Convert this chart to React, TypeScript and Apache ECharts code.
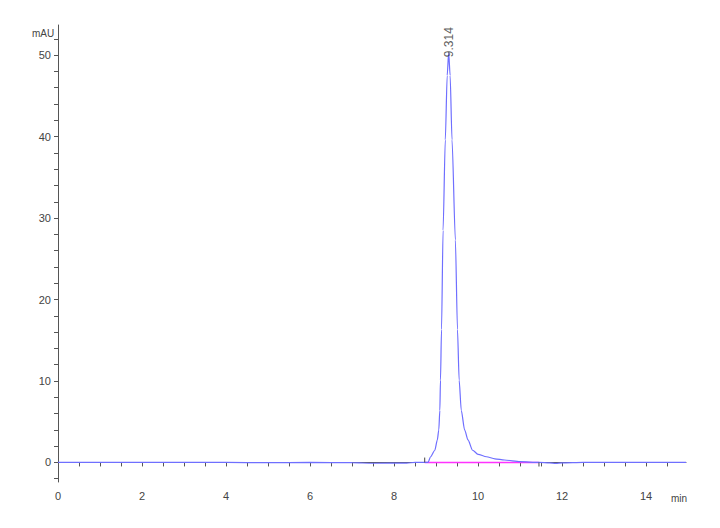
import React, { useEffect, useRef } from "react";
import * as echarts from "echarts";

// Chromatogram trace (time in min, absorbance in mAU)
const timeValues = [
  0, 1, 2, 3, 4, 5, 6, 7, 7.5, 8.3, 8.5, 8.7, 8.81, 8.87, 8.97, 9.03, 9.065, 9.09,
  9.105, 9.13, 9.167, 9.22, 9.265, 9.3, 9.335, 9.38, 9.46, 9.51, 9.55, 9.6, 9.68,
  9.76, 9.87, 10.0, 10.2, 10.4, 10.63, 11.0, 11.45, 11.7, 11.85, 12.0, 12.5, 13,
  14, 14.95,
];
const signalValues = [
  0, 0, 0.02, 0.02, 0, -0.02, 0, -0.03, -0.1, -0.08, 0, 0, 0.02, 0.7, 1.5, 2.76, 4.0,
  6.4, 10.1, 16.3, 28.5, 39.6, 47.5, 50.3, 47.5, 39.6, 27.3, 16.3, 10.1, 6.4, 4.0,
  2.76, 1.5, 1.0, 0.7, 0.45, 0.3, 0.1, 0, -0.05, -0.12, -0.05, 0.02, 0, 0, 0,
];

// Integration baseline
const baselineTimes = [8.73, 11.45];
const baselineValues = [0, 0];

// Peak
const peakTime = 9.3;
const peakHeight = 50.3;
const peakLabel = "9.314";

// Integration markers (start tick goes up, end tick goes down)
const startMarker = [[8.73, 0], [8.73, 0.6]];
const endMarker = [[11.45, 0], [11.45, -0.5]];

// Axes
const xMin = 0;
const xMax = 14.95;
const yMin = -2.4;
const yMax = 53.7;
const xMajor = [0, 2, 4, 6, 8, 10, 12, 14];
const xTicks = [
  0, 0.5, 1, 1.5, 2, 2.5, 3, 3.5, 4, 4.5, 5, 5.5, 6, 6.5, 7, 7.5, 8, 8.5, 9, 9.5, 10,
  10.5, 11, 11.5, 12, 12.5, 13, 13.5, 14, 14.5,
];
const yMajor = [0, 10, 20, 30, 40, 50];
const yTicks = [
  -2, 0, 2, 4, 6, 8, 10, 12, 14, 16, 18, 20, 22, 24, 26, 28, 30, 32, 34, 36, 38, 40,
  42, 44, 46, 48, 50, 52,
];

const FONT = "'Liberation Sans', Arial, sans-serif";
const AXIS_COLOR = "#555";
const LABEL_COLOR = "#444";

export default function App() {
  const ref = useRef<HTMLDivElement>(null);
  useEffect(() => {
    if (!ref.current) return;
    const chart = echarts.init(ref.current, null, { renderer: "svg" });
    const trace = timeValues.map((t, i) => [t, signalValues[i]]);
    const baseline = baselineTimes.map((t, i) => [t, baselineValues[i]]);
    chart.setOption({
      animation: false,
      backgroundColor: "#fff",
      grid: { left: 58, right: 34, top: 25, bottom: 46, containLabel: false },
      xAxis: {
        type: "value",
        min: xMin,
        max: xMax,
        interval: 2,
        axisLine: { show: true, lineStyle: { color: AXIS_COLOR, width: 1 } },
        axisTick: {
          show: true,
          customValues: xTicks,
          length: 4,
          inside: false,
          lineStyle: { color: AXIS_COLOR },
        },
        axisLabel: {
          customValues: xMajor,
          color: LABEL_COLOR,
          fontFamily: FONT,
          fontSize: 11,
          margin: 8,
        },
        splitLine: { show: false },
      },
      yAxis: {
        type: "value",
        min: yMin,
        max: yMax,
        interval: 10,
        axisLine: { show: true, lineStyle: { color: AXIS_COLOR, width: 1 } },
        axisTick: {
          show: true,
          customValues: yTicks,
          length: 4,
          lineStyle: { color: AXIS_COLOR },
        },
        axisLabel: {
          customValues: yMajor,
          color: LABEL_COLOR,
          fontFamily: FONT,
          fontSize: 11,
          margin: 7,
        },
        splitLine: { show: false },
      },
      graphic: [
        {
          type: "text",
          left: 32,
          top: 28,
          style: { text: "mAU", fontSize: 10, fontFamily: FONT, fill: LABEL_COLOR },
        },
        {
          type: "text",
          left: 671,
          top: 493,
          style: { text: "min", fontSize: 10, fontFamily: FONT, fill: LABEL_COLOR },
        },
      ],
      series: [
        {
          type: "line",
          data: baseline,
          symbol: "none",
          lineStyle: { color: "#ff33ff", width: 1.5 },
          z: 2,
        },
        {
          type: "line",
          data: trace,
          symbol: "none",
          smooth: 0.25,
          smoothMonotone: "x",
          lineStyle: { color: "#6f6fff", width: 1.2 },
          z: 3,
        },
        {
          type: "line",
          data: startMarker,
          symbol: "none",
          lineStyle: { color: "#444", width: 1 },
          z: 4,
        },
        {
          type: "line",
          data: endMarker,
          symbol: "none",
          lineStyle: { color: "#444", width: 1 },
          z: 4,
        },
        {
          type: "scatter",
          data: [[peakTime, peakHeight]],
          symbolSize: 1,
          itemStyle: { color: "transparent" },
          label: {
            show: true,
            formatter: peakLabel,
            position: "top",
            distance: -5,
            rotate: 90,
            align: "left",
            verticalAlign: "middle",
            color: "#333",
            fontFamily: FONT,
            fontSize: 12,
          },
          z: 5,
        },
      ],
    });
    return () => chart.dispose();
  }, []);
  return (
    <div
      ref={ref}
      style={{ position: "absolute", left: 0, top: 0, width: 720, height: 528 }}
    />
  );
}
